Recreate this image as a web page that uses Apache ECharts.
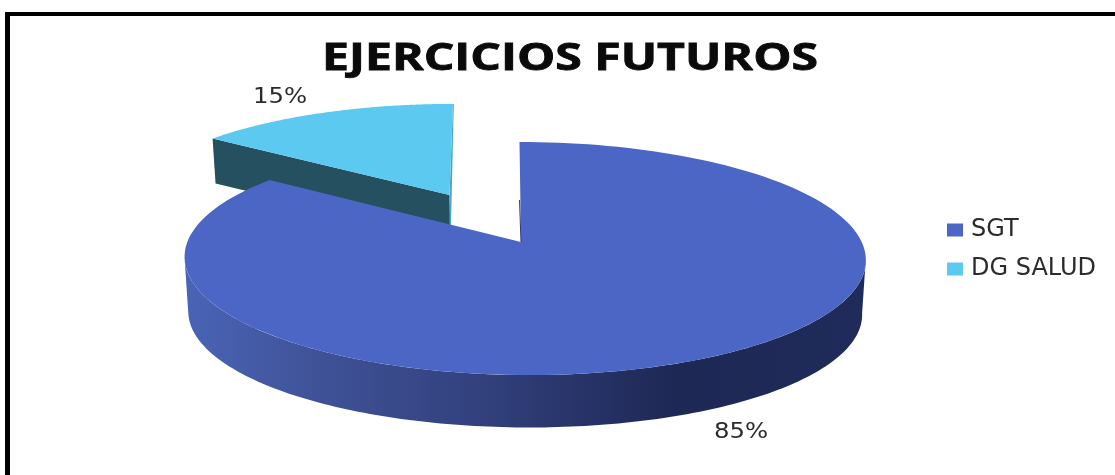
<!DOCTYPE html>
<html><head><meta charset="utf-8">
<style>html,body{margin:0;padding:0;background:#fff;overflow:hidden}#c{width:1115px;height:475px}</style>
<script src="https://cdn.jsdelivr.net/npm/echarts@6/dist/echarts.min.js"></script>
</head><body><div id="c"></div>
<script>
const categories = ['SGT', 'DG SALUD'];
const values = [85, 15];
const colors = ['#4b66c4', '#5bc9f0'];
const titleText = 'EJERCICIOS FUTUROS';
const clippedCaption = 'administrativos.';

const total = values.reduce((a, b) => a + b, 0);
// perspective projection of a disc onto the screen
function proj(g, theta) {
  const s = Math.sin(theta), c = Math.cos(theta);
  const w = 1 + g.k * c;
  return [g.px + g.a * s / w + g.shear * c, g.py - g.h * c / w];
}
function arc(g, t0, t1) {
  const pts = [], n = 160;
  for (let i = 0; i <= n; i++) pts.push(proj(g, t0 + (t1 - t0) * i / n));
  return pts;
}
const MAIN_APEX = [521, 242];
const MAIN_TOP = {px: 524.5, py: 242, a: 337.2, h: 114.2, k: 0.1416, shear: -5};
const MAIN_LOW = {px: 524.5, py: 297, a: 333.5, h: 112, k: 0.1416, shear: -5};
const SIDE_TOP = {px: 449.5, py: 195, a: 320, h: 104, k: 0.1416, shear: 3.5};

function sliceAngles() {
  // SGT starts at 12 o'clock and runs clockwise; DG SALUD follows it.
  const a0 = values[0] / total * Math.PI * 2;
  return {sgtEnd: a0, dgEnd: Math.PI * 2};
}
function poly(points, fill, z2) {
  return {type: 'polygon', z2: z2 || 0, shape: {points}, style: {fill}};
}
function pctText(i, x, y) {
  return {type: 'text', z2: 4, x, y, scaleX: 1.16, originX: 0, originY: 0, style: {
    text: Math.round(values[i] / total * 100) + '%', fill: '#2b2b2b',
    font: '21px "DejaVu Sans"', align: 'center', verticalAlign: 'middle'}};
}
function renderSgt(params, api) {
  const {sgtEnd} = sliceAngles();
  // silhouette tangents of the disc edge
  const tangent = Math.acos(-MAIN_TOP.k);
  const wallFrom = tangent, wallTo = Math.PI * 2 - tangent;
  const wall = arc(MAIN_TOP, wallFrom, wallTo).concat(arc(MAIN_LOW, wallFrom, wallTo).reverse());
  const wallFill = new echarts.graphic.LinearGradient(0, 0, 1, 0, [
    {offset: 0, color: '#4a64b6'},
    {offset: 0.2, color: '#3f5297'},
    {offset: 0.45, color: '#313f7b'},
    {offset: 0.72, color: '#1e2855'},
    {offset: 1, color: '#1f2b5a'}
  ]);
  const top = [MAIN_APEX].concat(arc(MAIN_TOP, 0, sgtEnd));
  return {type: 'group', children: [
    poly(wall, wallFill, 1),
    poly(top, colors[0], 2),
    {type: 'line', z2: 3, shape: {x1: 519.5, y1: 200, x2: 521, y2: 242}, style: {stroke: '#2d3a70', lineWidth: 1}},
    pctText(0, 741, 433)
  ]};
}
function renderDg(params, api) {
  const {sgtEnd, dgEnd} = sliceAngles();
  const apex = [SIDE_TOP.px, SIDE_TOP.py];
  const rimStart = proj(SIDE_TOP, sgtEnd);
  const top = [apex].concat(arc(SIDE_TOP, sgtEnd, dgEnd));
  const cut = [rimStart, apex, [apex[0] + 1, apex[1] + 45], [rimStart[0] + 3, rimStart[1] + 45]];
  const rimEnd = proj(SIDE_TOP, dgEnd);
  return {type: 'group', children: [
    poly(cut, '#24505f', 1),
    poly([rimEnd, [rimEnd[0] + 0.8, rimEnd[1]], [apex[0] + 1.5, apex[1] + 30], [apex[0], apex[1] + 30], apex], '#4aa6ca', 1),
    poly(top, colors[1], 2),
    pctText(1, 280, 98)
  ]};
}

const titleFont = 'bold 37px "Open Sans"';
const ctx = document.createElement('canvas').getContext('2d');
ctx.font = titleFont;
const titleScale = 496 / ctx.measureText(titleText).width;

const chart = echarts.init(document.getElementById('c'), null, {renderer: 'canvas'});
chart.setOption({
  animation: false,
  backgroundColor: '#fff',
  legend: {
    data: categories, orient: 'vertical', left: 942, top: 213, itemWidth: 16, itemHeight: 13,
    itemGap: 15, icon: 'rect', selectedMode: false, itemStyle: {borderWidth: 0},
    textStyle: {fontFamily: '"DejaVu Sans"', fontSize: 24, color: '#2b2b2b', padding: [0, 0, 0, 3]}
  },
  graphic: [
    {type: 'text', x: 570, y: 59, scaleX: titleScale, z: 10,
      style: {text: titleText, font: titleFont, fill: '#0a0a0a', stroke: '#0a0a0a', lineWidth: 0.8, align: 'center', verticalAlign: 'middle'}},
    {type: 'text', x: 193, y: -18, style: {text: clippedCaption, font: 'bold 22px "Liberation Sans"', fill: '#222'}, z: 10},
    {type: 'line', shape: {x1: 7.5, y1: 12, x2: 7.5, y2: 480}, style: {stroke: '#000', lineWidth: 5}, z: 10},
    {type: 'line', shape: {x1: 5, y1: 14, x2: 1120, y2: 14}, style: {stroke: '#000', lineWidth: 4}, z: 10}
  ],
  series: [
    {type: 'custom', name: categories[1], coordinateSystem: 'none', renderItem: renderDg, data: [values[1]], itemStyle: {color: colors[1]}, z: 2},
    {type: 'custom', name: categories[0], coordinateSystem: 'none', renderItem: renderSgt, data: [values[0]], itemStyle: {color: colors[0]}, z: 3}
  ]
});
</script></body></html>
